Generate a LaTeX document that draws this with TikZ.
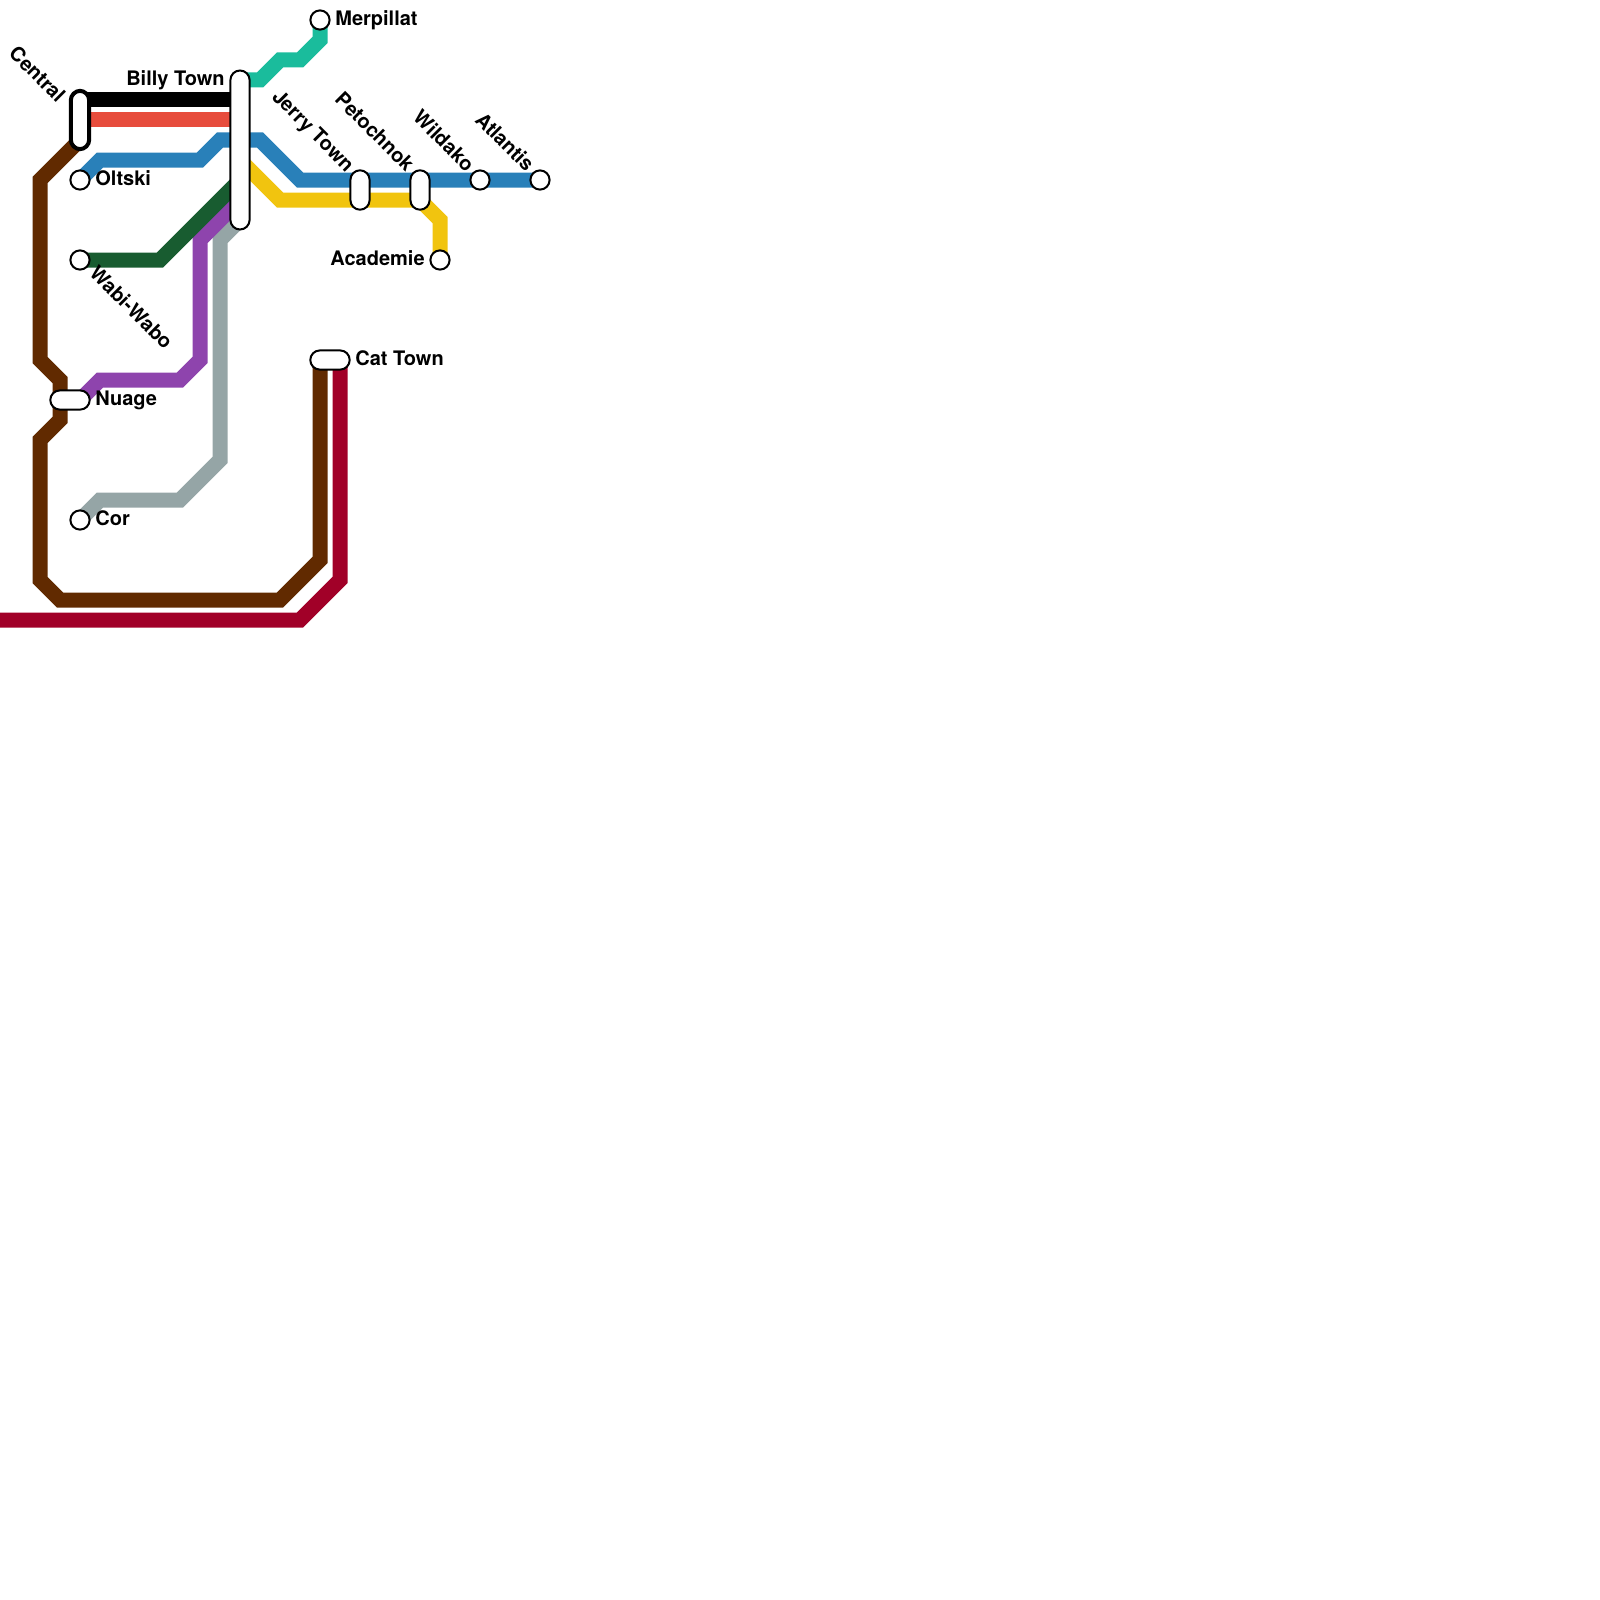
\documentclass[tikz,border=0pt]{standalone}
\usepackage{fontspec}
\setmainfont{TeX Gyre Heros}
\usepackage{xcolor}
\usetikzlibrary{backgrounds}
\definecolor{lineBrown}{HTML}{612A00}
\definecolor{lineCrimson}{HTML}{A10028}
\definecolor{lineRed}{HTML}{E74C3C}
\definecolor{lineBlue}{HTML}{2980B9}
\definecolor{lineGreen}{HTML}{185C30}
\definecolor{linePurple}{HTML}{8E44AD}
\definecolor{lineGrey}{HTML}{95A5A6}
\definecolor{lineYellow}{HTML}{F1C40F}
\definecolor{lineTeal}{HTML}{1ABC9C}

\begin{document}
\begin{tikzpicture}[x=0.5pt,y=-0.5pt,
 stop/.style={draw,fill=white,circle,line width=1pt,inner sep=0pt,minimum size=9.6pt},
 pill/.style={draw,fill=white,rounded corners=4.8pt,line width=1pt,inner sep=0pt},
 vpill/.style={pill,minimum width=9.6pt,minimum height=19.7pt},
 hpill/.style={pill,minimum width=19.7pt,minimum height=9.6pt},
 lab/.style={font=\fontsize{10}{12}\selectfont\bfseries,inner sep=0pt},
 route/.style={line width=7.5pt,line join=miter}]
 \useasboundingbox (0,0) rectangle (1600,1600);
 \node[stop] (merpillat) at (320,20) {};
 \node[stop] (oltski) at (80,180) {};
 \node[stop] (wabi) at (80,260) {};
 \node[stop] (cor) at (80,520) {};
 \node[stop] (wildako) at (480,180) {};
 \node[stop] (atlantis) at (540,180) {};
 \node[stop] (academie) at (440,260) {};
 \node[pill,minimum width=9.2pt,minimum height=29.2pt,line width=2pt] (central) at (80,120) {};
 \node[pill,minimum width=9.6pt,minimum height=79.5pt] (billy) at (240,150) {};
 \node[vpill] (jerry) at (360,190) {};
 \node[vpill] (petochnok) at (420,190) {};
 \node[hpill] (nuage) at (70,400) {};
 \node[hpill] (cat) at (330,360) {};
 \coordinate (west) at (0,620);
 \coordinate (centralS) at (80,140);
 \begin{scope}[on background layer]
  \draw[route,lineBrown] (centralS) -- (40,180) -- (40,360) -- (60,380) -- (60,420) -- (40,440) -- (40,580) -- (60,600) -- (280,600) -- (320,560) -- (320,360);
  \draw[route,lineCrimson] (west) -- (300,620) -- (340,580) -- (340,360);
  \draw[route,black] (80,100) -- (240,100);
  \draw[route,lineRed] (80,120) -- (240,120);
  \draw[route,lineBlue] (oltski.center) -- (100,160) -- (200,160) -- (220,140) -- (260,140) -- (300,180) -- (jerry.center |- atlantis) -- (atlantis.center);
  \draw[route,lineGrey] (cor.center) -- (100,500) -- (180,500) -- (220,460) -- (220,240) -- (240,220);
  \draw[route,linePurple] (80,400) -- (100,380) -- (180,380) -- (200,360) -- (200,240) -- (240,200);
  \draw[route,lineGreen] (wabi.center) -- (160,260) -- (240,180);
  \draw[route,lineYellow] (240,160) -- (280,200) -- (420,200) -- (440,220) -- (academie.center);
  \draw[route,lineTeal] (240,80) -- (260,80) -- (280,60) -- (300,60) -- (320,40) -- (merpillat.center);
 \end{scope}
 \node[lab,anchor=base west] (merpillatlab) at (335,25.5) {Merpillat};
 \node[lab,anchor=base west] (oltskilab) at (95,185.5) {Oltski};
 \node[lab,anchor=base west] (nuagelab) at (95,405.5) {Nuage};
 \node[lab,anchor=base west] (corlab) at (95,525.5) {Cor};
 \node[lab,anchor=base west] (catlab) at (355,365.5) {Cat Town};
 \node[lab,anchor=base east] (academielab) at (425,265.5) {Academie};
 \node[lab,anchor=base east] (billylab) at (225,85.5) {Billy Town};
 \node[lab,anchor=base east,rotate=-45] (centrallab) at (57,104) {Central};
 \node[lab,anchor=base east,rotate=-45] (jerrylab) at (346,173) {Jerry Town};
 \node[lab,anchor=base east,rotate=-45] (petochnoklab) at (406,173) {Petochnok};
 \node[lab,anchor=base east,rotate=-45] (wildakolab) at (466,173) {Wildako};
 \node[lab,anchor=base east,rotate=-45] (atlantislab) at (526,173) {Atlantis};
 \node[lab,anchor=base west,rotate=-45] (wabilab) at (88,274) {Wabi-Wabo};
\end{tikzpicture}
\end{document}
